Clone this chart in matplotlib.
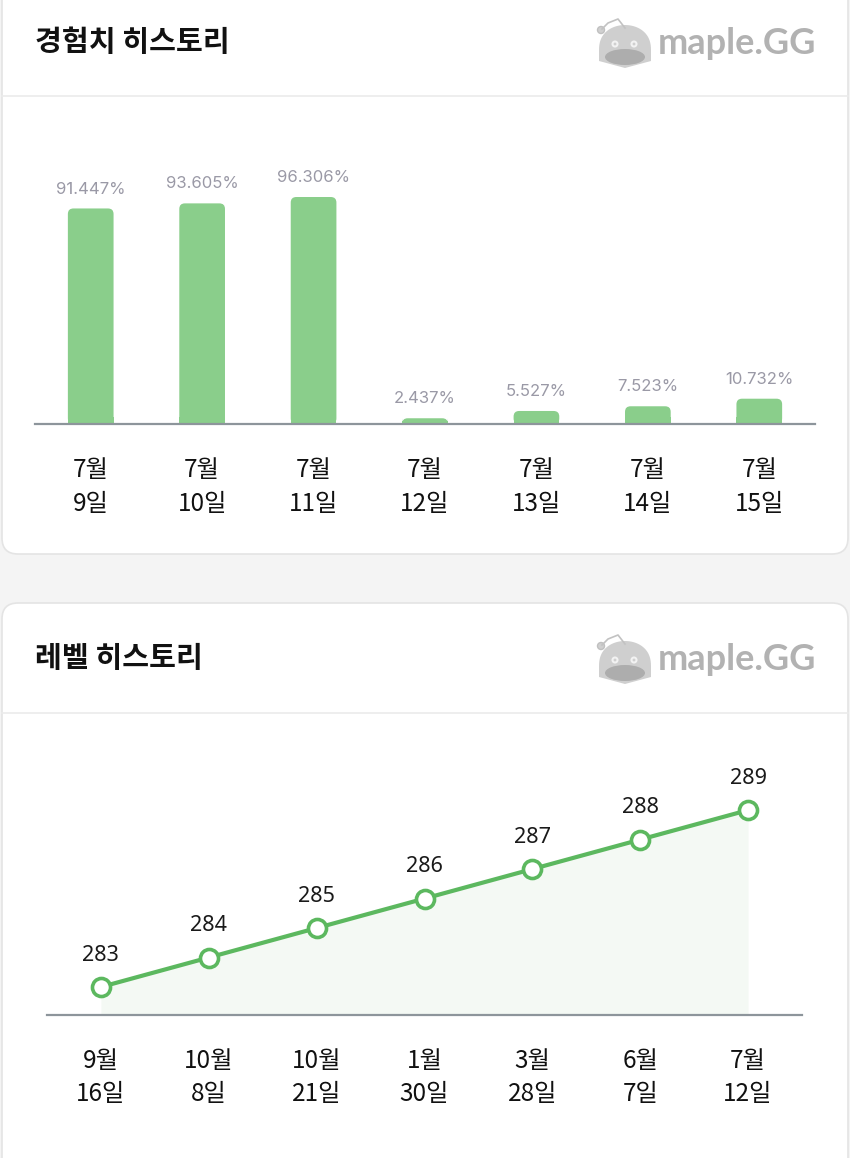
import matplotlib.pyplot as plt
from matplotlib.patches import FancyBboxPatch, Rectangle, Ellipse, Polygon
import numpy as np

plt.rcParams['font.family'] = ['Noto Sans CJK KR', 'DejaVu Sans']

# experience history (bar chart)
exp_dates = ['7월\n9일', '7월\n10일', '7월\n11일', '7월\n12일', '7월\n13일', '7월\n14일', '7월\n15일']
exp_values = [91.447, 93.605, 96.306, 2.437, 5.527, 7.523, 10.732]

# level history (line chart)
lvl_dates = ['9월\n16일', '10월\n8일', '10월\n21일', '1월\n30일', '3월\n28일', '6월\n7일', '7월\n12일']
lvl_values = [283, 284, 285, 286, 287, 288, 289]

W, H = 850, 1158
BAR_GREEN = '#8ace8b'
LINE_GREEN = '#5cb85f'
AXIS_GRAY = '#8d959b'


def rect(left, top, right, bottom):
    # pixel box -> figure fraction
    return [left / W, 1 - bottom / H, (right - left) / W, (bottom - top) / H]


fig = plt.figure(figsize=(W / 100, H / 100), dpi=100)
fig.patch.set_facecolor('#f4f4f4')

# background layer in pixel coordinates
bg = fig.add_axes([0, 0, 1, 1])
bg.set_xlim(0, W)
bg.set_ylim(H, 0)
bg.axis('off')

for top, bottom in [(-30, 554), (603, H + 30)]:
    bg.add_patch(FancyBboxPatch((2, top), 846, bottom - top,
                                boxstyle='round,pad=0,rounding_size=16',
                                fc='white', ec='#e4e4e4', lw=1.2))

bg.plot([2, 848], [96, 96], color='#ebebeb', lw=1.2)
bg.plot([2, 848], [713, 713], color='#ebebeb', lw=1.2)

bg.text(35, 42, '경험치 히스토리', fontsize=21, fontweight='bold',
        color='#111111', va='center', ha='left')
bg.text(35, 658, '레벨 히스토리', fontsize=21, fontweight='bold',
        color='#111111', va='center', ha='left')


def draw_logo(cy):
    # little slime mascot + wordmark
    bg.plot([602, 608, 618, 625], [cy - 14, cy - 20, cy - 24, cy - 15],
            color='#c2c2c2', lw=1.2)
    bg.add_patch(Ellipse((601, cy - 13), 7, 7, fc='#d0d0d0', ec='#c0c0c0', lw=1))
    t = np.linspace(0, np.pi, 40)
    dome_x = 625 + 26 * np.cos(t)
    dome_y = cy + 8 - 26 * np.sin(t) ** 0.8
    pts = list(zip(dome_x, dome_y)) + [(599, cy + 18), (625, cy + 25), (651, cy + 18)]
    bg.add_patch(Polygon(pts, closed=True, fc='#cfcfcf', ec='none'))
    bg.add_patch(Ellipse((625, cy + 14), 40, 16, fc='#adadad', ec='none'))
    bg.add_patch(Ellipse((615, cy + 1), 5, 5, fc='none', ec='#f2f2f2', lw=1.5))
    bg.add_patch(Ellipse((634, cy + 1), 5, 5, fc='none', ec='#f2f2f2', lw=1.5))
    bg.text(737, cy, 'maple.GG', fontsize=26, fontweight='bold',
            family=['Lato', 'DejaVu Sans'], color='#b2b2b2',
            va='center', ha='center')


draw_logo(43)
draw_logo(659)

# ---- bar chart ----
ax1 = fig.add_axes(rect(35, 188.3, 815, 424))
ax1.set_xlim(-0.5, 6.5)
ax1.set_ylim(0, 100)
x = np.arange(len(exp_values))
bw = 0.41
px_x = 780 / 7
px_y = 235.7 / 100
for xi, v in zip(x, exp_values):
    patch = FancyBboxPatch((xi - bw / 2, 0), bw, v,
                           boxstyle='round,pad=0,rounding_size=0.05',
                           mutation_aspect=px_x / px_y,
                           fc=BAR_GREEN, ec='none', clip_on=False)
    ax1.add_patch(patch)
    ax1.add_patch(Rectangle((xi - bw / 2, 0), bw, min(v / 2, 3),
                            fc=BAR_GREEN, ec='none'))
    ax1.annotate(f'{v:.3f}%', (xi, v), xytext=(0, 14), textcoords='offset points',
                 ha='center', va='center', fontsize=12, color='#9a99a6',
                 family=['Inter', 'DejaVu Sans'], annotation_clip=False)

ax1.set_xticks(x, exp_dates)
ax1.set_yticks([])
ax1.tick_params(axis='x', length=0, pad=24, labelsize=17.5, labelcolor='#111111')
for lab in ax1.get_xticklabels():
    lab.set_linespacing(1.38)
for s in ['top', 'left', 'right']:
    ax1.spines[s].set_visible(False)
ax1.spines['bottom'].set_color(AXIS_GRAY)
ax1.spines['bottom'].set_linewidth(1.6)
ax1.set_facecolor('none')

# ---- line chart ----
ax2 = fig.add_axes(rect(47, 760, 802, 1015))
ax2.set_xlim(-0.5, 6.5)
ax2.set_ylim(282.05, 290.7)
xl = np.arange(len(lvl_values))
ax2.fill_between(xl, lvl_values, 282.05, color='#f4f9f4', lw=0)
ax2.plot(xl, lvl_values, color=LINE_GREEN, lw=3, marker='o', markersize=13,
         markerfacecolor='white', markeredgecolor=LINE_GREEN, markeredgewidth=2.6,
         solid_capstyle='round', zorder=3)
for xi, v in zip(xl, lvl_values):
    ax2.annotate(str(v), (xi, v), xytext=(0, 23), textcoords='offset points',
                 ha='center', va='center', fontsize=15.5, color='#1a1a1a',
                 family=['Noto Sans', 'DejaVu Sans'], annotation_clip=False)

ax2.set_xticks(xl, lvl_dates)
ax2.set_yticks([])
ax2.tick_params(axis='x', length=0, pad=23.5, labelsize=17.5, labelcolor='#111111')
for lab in ax2.get_xticklabels():
    lab.set_linespacing(1.38)
for s in ['top', 'left', 'right']:
    ax2.spines[s].set_visible(False)
ax2.spines['bottom'].set_color(AXIS_GRAY)
ax2.spines['bottom'].set_linewidth(1.6)
ax2.set_facecolor('none')

fig.savefig('out.png', dpi=100, facecolor=fig.get_facecolor())
